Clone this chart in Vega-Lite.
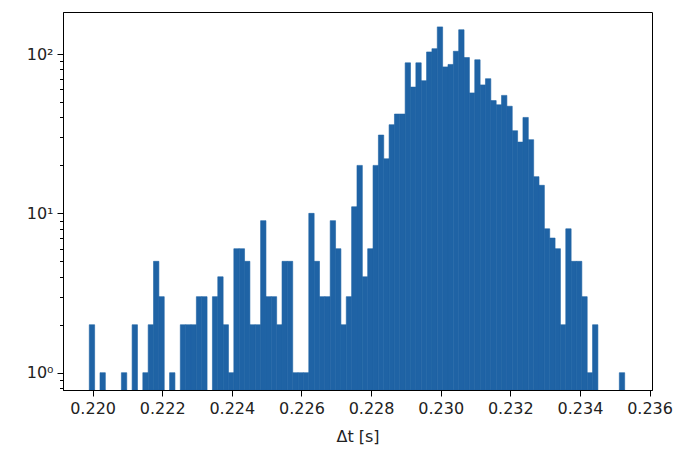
{
  "$schema": "https://vega.github.io/schema/vega-lite/v6.json",
  "width": 589,
  "height": 378,
  "autosize": {"type": "none"},
  "padding": {"left": 63, "top": 12, "right": 21, "bottom": 64},
  "background": "white",
  "config": {
    "view": {"stroke": "#000000", "strokeWidth": 1},
    "axis": {"labelFont": "DejaVu Sans", "titleFont": "DejaVu Sans", "labelFontSize": 16, "titleFontSize": 16, "labelColor": "#222222", "titleColor": "#222222", "domainColor": "#000000", "tickColor": "#000000", "grid": false, "titleFontWeight": "normal"}
  },
  "data": {"values": [
    {"start": 0.2199050, "end": 0.2200588, "count": 2},
    {"start": 0.2202126, "end": 0.2203664, "count": 1},
    {"start": 0.2208278, "end": 0.2209816, "count": 1},
    {"start": 0.2211354, "end": 0.2212892, "count": 2},
    {"start": 0.2214430, "end": 0.2215968, "count": 1},
    {"start": 0.2215968, "end": 0.2217506, "count": 2},
    {"start": 0.2217506, "end": 0.2219044, "count": 5},
    {"start": 0.2219044, "end": 0.2220582, "count": 3},
    {"start": 0.2222120, "end": 0.2223658, "count": 1},
    {"start": 0.2225196, "end": 0.2226734, "count": 2},
    {"start": 0.2226734, "end": 0.2228272, "count": 2},
    {"start": 0.2228272, "end": 0.2229810, "count": 2},
    {"start": 0.2229810, "end": 0.2231348, "count": 3},
    {"start": 0.2231348, "end": 0.2232886, "count": 3},
    {"start": 0.2234424, "end": 0.2235962, "count": 3},
    {"start": 0.2235962, "end": 0.2237500, "count": 4},
    {"start": 0.2237500, "end": 0.2239038, "count": 2},
    {"start": 0.2239038, "end": 0.2240576, "count": 1},
    {"start": 0.2240576, "end": 0.2242114, "count": 6},
    {"start": 0.2242114, "end": 0.2243652, "count": 6},
    {"start": 0.2243652, "end": 0.2245190, "count": 5},
    {"start": 0.2245190, "end": 0.2246728, "count": 2},
    {"start": 0.2246728, "end": 0.2248266, "count": 2},
    {"start": 0.2248266, "end": 0.2249804, "count": 9},
    {"start": 0.2249804, "end": 0.2251342, "count": 3},
    {"start": 0.2251342, "end": 0.2252880, "count": 3},
    {"start": 0.2252880, "end": 0.2254418, "count": 2},
    {"start": 0.2254418, "end": 0.2255956, "count": 5},
    {"start": 0.2255956, "end": 0.2257494, "count": 5},
    {"start": 0.2257494, "end": 0.2259032, "count": 1},
    {"start": 0.2259032, "end": 0.2260570, "count": 1},
    {"start": 0.2260570, "end": 0.2262108, "count": 1},
    {"start": 0.2262108, "end": 0.2263646, "count": 10},
    {"start": 0.2263646, "end": 0.2265184, "count": 5},
    {"start": 0.2265184, "end": 0.2266722, "count": 3},
    {"start": 0.2266722, "end": 0.2268260, "count": 3},
    {"start": 0.2268260, "end": 0.2269798, "count": 9},
    {"start": 0.2269798, "end": 0.2271336, "count": 6},
    {"start": 0.2271336, "end": 0.2272874, "count": 2},
    {"start": 0.2272874, "end": 0.2274412, "count": 3},
    {"start": 0.2274412, "end": 0.2275950, "count": 11},
    {"start": 0.2275950, "end": 0.2277488, "count": 20},
    {"start": 0.2277488, "end": 0.2279026, "count": 4},
    {"start": 0.2279026, "end": 0.2280564, "count": 6},
    {"start": 0.2280564, "end": 0.2282102, "count": 20},
    {"start": 0.2282102, "end": 0.2283640, "count": 31},
    {"start": 0.2283640, "end": 0.2285178, "count": 22},
    {"start": 0.2285178, "end": 0.2286716, "count": 36},
    {"start": 0.2286716, "end": 0.2288254, "count": 42},
    {"start": 0.2288254, "end": 0.2289792, "count": 42},
    {"start": 0.2289792, "end": 0.2291330, "count": 88},
    {"start": 0.2291330, "end": 0.2292868, "count": 62},
    {"start": 0.2292868, "end": 0.2294406, "count": 88},
    {"start": 0.2294406, "end": 0.2295944, "count": 68},
    {"start": 0.2295944, "end": 0.2297482, "count": 103},
    {"start": 0.2297482, "end": 0.2299020, "count": 108},
    {"start": 0.2299020, "end": 0.2300558, "count": 148},
    {"start": 0.2300558, "end": 0.2302096, "count": 83},
    {"start": 0.2302096, "end": 0.2303634, "count": 86},
    {"start": 0.2303634, "end": 0.2305172, "count": 104},
    {"start": 0.2305172, "end": 0.2306710, "count": 142},
    {"start": 0.2306710, "end": 0.2308248, "count": 95},
    {"start": 0.2308248, "end": 0.2309786, "count": 57},
    {"start": 0.2309786, "end": 0.2311324, "count": 92},
    {"start": 0.2311324, "end": 0.2312862, "count": 64},
    {"start": 0.2312862, "end": 0.2314400, "count": 70},
    {"start": 0.2314400, "end": 0.2315938, "count": 51},
    {"start": 0.2315938, "end": 0.2317476, "count": 48},
    {"start": 0.2317476, "end": 0.2319014, "count": 55},
    {"start": 0.2319014, "end": 0.2320552, "count": 47},
    {"start": 0.2320552, "end": 0.2322090, "count": 33},
    {"start": 0.2322090, "end": 0.2323628, "count": 28},
    {"start": 0.2323628, "end": 0.2325166, "count": 40},
    {"start": 0.2325166, "end": 0.2326704, "count": 29},
    {"start": 0.2326704, "end": 0.2328242, "count": 17},
    {"start": 0.2328242, "end": 0.2329780, "count": 15},
    {"start": 0.2329780, "end": 0.2331318, "count": 8},
    {"start": 0.2331318, "end": 0.2332856, "count": 7},
    {"start": 0.2332856, "end": 0.2334394, "count": 6},
    {"start": 0.2334394, "end": 0.2335932, "count": 2},
    {"start": 0.2335932, "end": 0.2337470, "count": 8},
    {"start": 0.2337470, "end": 0.2339008, "count": 5},
    {"start": 0.2339008, "end": 0.2340546, "count": 5},
    {"start": 0.2340546, "end": 0.2342084, "count": 3},
    {"start": 0.2342084, "end": 0.2343622, "count": 1},
    {"start": 0.2343622, "end": 0.2345160, "count": 2},
    {"start": 0.2351312, "end": 0.2352850, "count": 1}
  ]},
  "mark": {"type": "rect", "color": "#1f63a5", "stroke": "#1f63a5", "strokeWidth": 0.6, "clip": true},
  "encoding": {
    "x": {
      "field": "start", "type": "quantitative",
      "scale": {"domain": [0.219150, 0.236070], "nice": false, "zero": false},
      "axis": {"values": [0.220, 0.222, 0.224, 0.226, 0.228, 0.230, 0.232, 0.234, 0.236], "format": ".3f", "tickSize": 6, "labelPadding": 4, "title": "Δt [s]", "titlePadding": 12}
    },
    "x2": {"field": "end"},
    "y": {
      "field": "count", "type": "quantitative",
      "scale": {"type": "log", "domain": [0.779, 183.5], "nice": false},
      "axis": {
        "title": null,
        "values": [0.8, 0.9, 1, 2, 3, 4, 5, 6, 7, 8, 9, 10, 20, 30, 40, 50, 60, 70, 80, 90, 100],
        "labelExpr": "datum.value == 1 ? '10⁰' : datum.value == 10 ? '10¹' : datum.value == 100 ? '10²' : ''",
        "tickSize": {"condition": {"test": "datum.value == 1 || datum.value == 10 || datum.value == 100", "value": 6}, "value": 3.5},
        "labelPadding": 4
      }
    },
    "y2": {"datum": 0.779}
  }
}
